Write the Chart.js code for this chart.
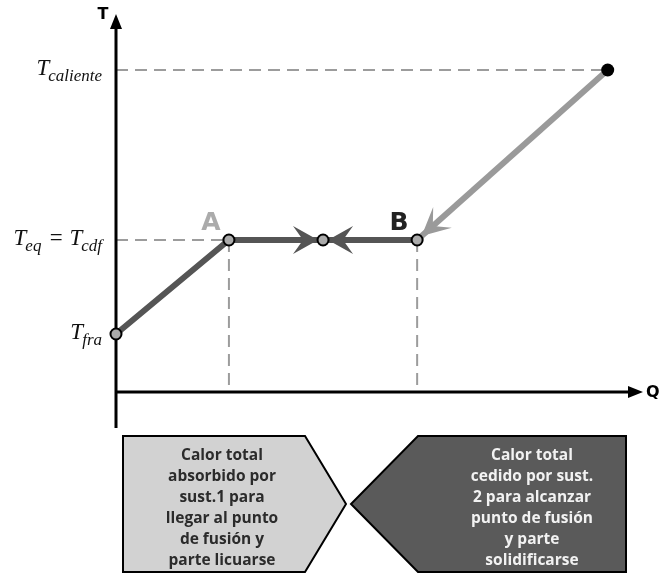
<!DOCTYPE html>
<html>
<head>
<meta charset="utf-8">
<script src="https://cdn.jsdelivr.net/npm/chart.js@4"></script>
<style>
html,body{margin:0;padding:0;background:#fff;}
#wrap{width:662px;height:574px;position:relative;}
</style>
</head>
<body>
<div id="wrap"><canvas id="c" width="662" height="574"></canvas></div>
<script>
// ---- data ----
const pointNames = ['Tfra', 'A', 'eq', 'B', 'Tcaliente'];
const heatQ = [0, 2.4, 4.4, 6.4, 10.45];
const tempT = [5.8, 15.2, 15.2, 15.2, 32.2];
const tempLevels = [5.8, 15.2, 32.2];
const tempLabelMain = [['T'], ['T', ' = ', 'T'], ['T']];
const tempLabelSub = [['fra'], ['eq', '', 'cdf'], ['caliente']];
const letterLabels = ['A', 'B'];
const leftBoxLines = ['Calor total', 'absorbido por', 'sust.1 para', 'llegar al punto', 'de fusión y', 'parte licuarse'];
const rightBoxLines = ['Calor total', 'cedido por sust.', '2 para alcanzar', 'punto de fusión', 'y parte', 'solidificarse'];
const axisRange = {qMax: 11.2, tMin: -3.6, tMax: 37.8};

const pt = i => ({x: heatQ[i], y: tempT[i]});

function arrowHead(ctx, tip, from, len, half, notch, color) {
  const dx = tip.x - from.x, dy = tip.y - from.y;
  const d = Math.hypot(dx, dy), ux = dx / d, uy = dy / d;
  const px = -uy, py = ux;
  ctx.save();
  ctx.fillStyle = color;
  ctx.beginPath();
  ctx.moveTo(tip.x, tip.y);
  ctx.lineTo(tip.x - ux * len + px * half, tip.y - uy * len + py * half);
  ctx.lineTo(tip.x - ux * notch, tip.y - uy * notch);
  ctx.lineTo(tip.x - ux * len - px * half, tip.y - uy * len - py * half);
  ctx.closePath();
  ctx.fill();
  ctx.restore();
}

const decor = {
  id: 'decor',
  beforeDatasetsDraw(chart) {
    const ctx = chart.ctx, xs = chart.scales.x, ys = chart.scales.y;
    const X = v => xs.getPixelForValue(v), Y = v => ys.getPixelForValue(v);
    ctx.save();
    // dashed guide lines
    ctx.strokeStyle = '#9c9c9c';
    ctx.lineWidth = 2;
    ctx.setLineDash([12, 7]);
    const seg = (x1, y1, x2, y2) => { ctx.beginPath(); ctx.moveTo(x1, y1); ctx.lineTo(x2, y2); ctx.stroke(); };
    seg(X(0), Y(tempT[4]), X(heatQ[4]), Y(tempT[4]));
    seg(X(0), Y(tempT[1]), X(heatQ[1]), Y(tempT[1]));
    seg(X(heatQ[1]), Y(tempT[1]), X(heatQ[1]), Y(0));
    seg(X(heatQ[3]), Y(tempT[3]), X(heatQ[3]), Y(0));
    ctx.setLineDash([]);
    // axes
    ctx.strokeStyle = '#000';
    ctx.fillStyle = '#000';
    ctx.lineWidth = 3;
    seg(X(0), Y(axisRange.tMin), X(0), Y(axisRange.tMax) + 14);
    seg(X(0), Y(0), X(axisRange.qMax) - 13, Y(0));
    ctx.beginPath();
    ctx.moveTo(X(0), Y(axisRange.tMax));
    ctx.lineTo(X(0) - 6, Y(axisRange.tMax) + 15);
    ctx.lineTo(X(0) + 6, Y(axisRange.tMax) + 15);
    ctx.closePath(); ctx.fill();
    ctx.beginPath();
    ctx.moveTo(X(axisRange.qMax), Y(0));
    ctx.lineTo(X(axisRange.qMax) - 15, Y(0) - 6);
    ctx.lineTo(X(axisRange.qMax) - 15, Y(0) + 6);
    ctx.closePath(); ctx.fill();
    // axis titles
    ctx.font = 'bold 16px "DejaVu Sans", sans-serif';
    ctx.textBaseline = 'middle';
    ctx.textAlign = 'center';
    ctx.fillText('T', X(0) - 13, Y(axisRange.tMax) + 1);
    ctx.textAlign = 'left';
    ctx.fillText('Q', X(axisRange.qMax) + 3, Y(0) + 1);
    // temperature labels with subscripts
    ctx.textBaseline = 'alphabetic';
    tempLevels.forEach((lv, k) => {
      const mains = tempLabelMain[k], subs = tempLabelSub[k];
      const mainFont = 'italic 23px "Liberation Serif", serif';
      const subFont = 'italic 17px "Liberation Serif", serif';
      let total = 0;
      mains.forEach((m, j) => {
        ctx.font = mainFont; total += ctx.measureText(m).width;
        ctx.font = subFont; total += ctx.measureText(subs[j]).width;
      });
      let x = X(0) - 13 - total;
      const base = Y(lv) + 5;
      mains.forEach((m, j) => {
        ctx.font = mainFont; ctx.fillStyle = '#111';
        ctx.fillText(m, x, base); x += ctx.measureText(m).width;
        ctx.font = subFont;
        ctx.fillText(subs[j], x - (m === 'T' ? 1 : 0), base + 6); x += ctx.measureText(subs[j]).width;
      });
    });
    // A and B letters
    ctx.font = 'bold 25px "DejaVu Sans", sans-serif';
    ctx.textAlign = 'center';
    ctx.textBaseline = 'alphabetic';
    ctx.fillStyle = '#ababab';
    ctx.fillText(letterLabels[0], X(heatQ[1]) - 18, Y(tempT[1]) - 10);
    ctx.fillStyle = '#222';
    ctx.fillText(letterLabels[1], X(heatQ[3]) - 18, Y(tempT[3]) - 10);
    // info boxes
    ctx.lineWidth = 2;
    ctx.lineJoin = 'miter';
    ctx.strokeStyle = '#000';
    ctx.fillStyle = '#d2d2d2';
    ctx.beginPath();
    ctx.moveTo(123, 436); ctx.lineTo(305, 436); ctx.lineTo(346, 504); ctx.lineTo(305, 572); ctx.lineTo(123, 572);
    ctx.closePath(); ctx.fill(); ctx.stroke();
    ctx.fillStyle = '#5a5a5a';
    ctx.beginPath();
    ctx.moveTo(418, 436); ctx.lineTo(626, 436); ctx.lineTo(626, 572); ctx.lineTo(418, 572); ctx.lineTo(351, 504);
    ctx.closePath(); ctx.fill(); ctx.stroke();
    ctx.font = 'bold 15.5px "Open Sans", sans-serif';
    ctx.textAlign = 'center';
    ctx.fillStyle = '#2b2b2b';
    leftBoxLines.forEach((t, i) => ctx.fillText(t, 222, 460 + 21 * i));
    ctx.fillStyle = '#f2f2f2';
    rightBoxLines.forEach((t, i) => ctx.fillText(t, 532, 460 + 21 * i));
    ctx.restore();
  },
  afterDatasetDraw(chart, args) {
    const ctx = chart.ctx, xs = chart.scales.x, ys = chart.scales.y;
    const P = i => ({x: xs.getPixelForValue(heatQ[i]), y: ys.getPixelForValue(tempT[i])});
    if (args.index === 2) {
      const m = P(2);
      arrowHead(ctx, {x: m.x - 5, y: m.y}, P(1), 25, 14, 15, '#555');
    } else if (args.index === 3) {
      const m = P(2);
      arrowHead(ctx, {x: m.x + 5, y: m.y}, P(3), 25, 14, 15, '#555');
    } else if (args.index === 4) {
      const b = P(3), h = P(4);
      const d = Math.hypot(h.x - b.x, h.y - b.y);
      const tip = {x: b.x + (h.x - b.x) / d * 6, y: b.y + (h.y - b.y) / d * 6};
      arrowHead(ctx, tip, h, 28, 14, 15, '#9a9a9a');
    }
  }
};

new Chart(document.getElementById('c'), {
  type: 'scatter',
  data: {
    datasets: [
      {label: 'marcadores', data: [0, 1, 2, 3].map(pt), showLine: false, pointRadius: 5.5,
       pointBackgroundColor: '#ababab', pointBorderColor: '#000', pointBorderWidth: 2, clip: false},
      {label: 'caliente', data: [pt(4)], showLine: false, pointRadius: 6.5,
       pointBackgroundColor: '#000', pointBorderColor: '#000', pointBorderWidth: 0, clip: false},
      {label: 'sust1', data: [0, 1, 2].map(pt), showLine: true, borderColor: '#555', borderWidth: 6,
       pointRadius: 0, borderJoinStyle: 'miter', clip: false},
      {label: 'sust2 liq', data: [3, 2].map(pt), showLine: true, borderColor: '#555', borderWidth: 6,
       pointRadius: 0, clip: false},
      {label: 'sust2', data: [4, 3].map(pt), showLine: true, borderColor: '#9a9a9a', borderWidth: 6,
       pointRadius: 0, clip: false}
    ]
  },
  options: {
    responsive: false,
    animation: false,
    events: [],
    layout: {padding: {left: 116, right: 19, top: 14, bottom: 182}},
    plugins: {legend: {display: false}, tooltip: {enabled: false}},
    scales: {
      x: {type: 'linear', min: 0, max: axisRange.qMax, display: false},
      y: {type: 'linear', min: 0, max: axisRange.tMax, display: false}
    }
  },
  plugins: [decor]
});
</script>
</body>
</html>
